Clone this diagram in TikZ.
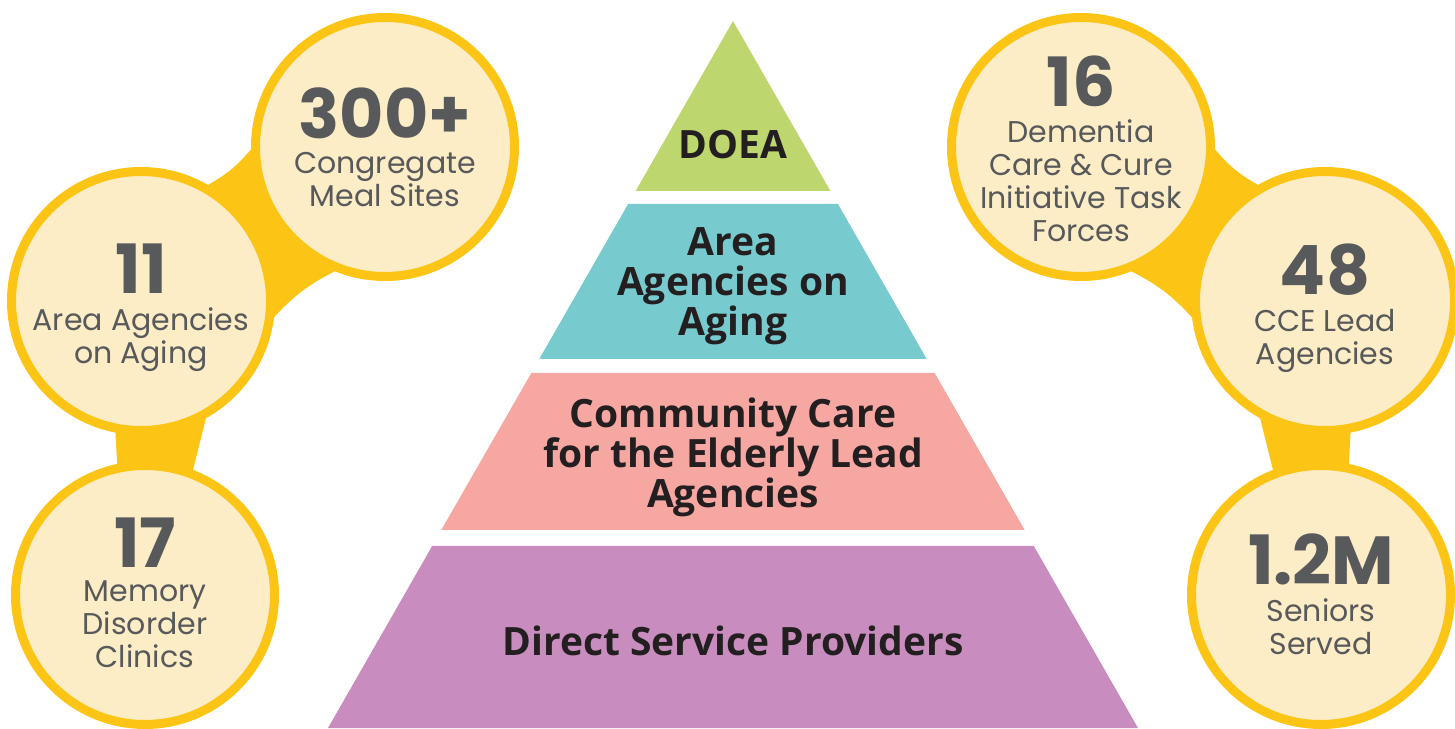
\documentclass[tikz,border=0pt]{standalone}
\usepackage{fontspec}
\setmainfont{Poppins}
\newfontfamily\tierfont{Open Sans}
\usetikzlibrary{positioning,backgrounds}
\definecolor{gold}{HTML}{FCC515}
\definecolor{cream}{HTML}{FCEDC6}
\definecolor{slate}{HTML}{58595B}
\definecolor{ink}{HTML}{231F20}
\definecolor{doeagreen}{HTML}{BDD66D}
\definecolor{aaateal}{HTML}{77CBCF}
\definecolor{ccepink}{HTML}{F6A7A1}
\definecolor{dsppurple}{HTML}{C88DBE}
\tikzset{
  stat/.style={circle,draw=gold,fill=cream,line width=9pt,minimum size=259pt,inner sep=0pt},
  statnum/.style={font=\bfseries\fontsize{68}{68}\selectfont,text=slate,inner sep=0pt},
  statlabel/.style={font=\fontsize{30}{33}\selectfont,text=slate,align=center,inner sep=0pt},
  link/.style={fill=gold},
  tierlabel/.style={font=\tierfont\bfseries\fontsize{39}{40}\selectfont,text=ink,align=center,inner sep=0pt}
}
\begin{document}
\begin{tikzpicture}[x=1pt,y=1pt]
  \useasboundingbox (0,0) rectangle (1455,728);

  % pyramid
  \fill[doeagreen] (733,707) -- (830.4,537) -- (635.6,537) -- cycle;
  \fill[aaateal] (628.1,524) -- (837.9,524) -- (926.7,369) -- (539.3,369) -- cycle;
  \fill[ccepink] (531.3,355) -- (934.7,355) -- (1024.7,198) -- (441.3,198) -- cycle;
  \fill[dsppurple] (432.2,182) -- (1033.8,182) -- (1138,0) -- (328,0) -- cycle;

  \node[tierlabel] (doea) at (733,583) {DOEA};
  \node[tierlabel] (aaa) at (733,442) {Area\\Agencies on\\Aging};
  \node[tierlabel] (cce) at (733,271) {Community Care\\for the Elderly Lead\\Agencies};
  \node[tierlabel] (dsp) at (733,87) {Direct Service Providers};

  % left circles
  \node[stat] (c300) at (385,581) {};
  \node[stat] (c11) at (141,427) {};
  \node[stat] (c17) at (145,133) {};
  % right circles
  \node[stat] (c16) at (1081,581) {};
  \node[stat] (c48) at (1325,427) {};
  \node[stat] (c12) at (1321,133) {};

  \node[statnum] (n300) at ([yshift=33.5pt]c300) {300+};
  \node[statlabel] (l300) [below=13pt of n300] {Congregate\\Meal Sites};
  \node[statnum] (n11) at ([yshift=32pt]c11) {11};
  \node[statlabel] (l11) [below=13pt of n11] {Area Agencies\\on Aging};
  \node[statnum] (n17) at ([yshift=52.5pt]c17) {17};
  \node[statlabel] (l17) [below=13pt of n17] {Memory\\Disorder\\Clinics};
  \node[statnum] (n16) at ([yshift=66pt]c16) {16};
  \node[statlabel] (l16) [below=13pt of n16] {Dementia\\Care \& Cure\\Initiative Task\\Forces};
  \node[statnum] (n48) at ([yshift=31pt]c48) {48};
  \node[statlabel] (l48) [below=13pt of n48] {CCE Lead\\Agencies};
  \node[statnum] (n12) at ([yshift=35.5pt]c12) {1.2M};
  \node[statlabel] (l12) [below=13pt of n12] {Seniors\\Served};

  % yellow links behind the circles
  \begin{pgfonlayer}{background}
    \path[link] (c11.60) to[bend right=10] (c300.181) -- (c300.248) to[bend right=10] (c11.-7) -- cycle;
    \path[link] (c11.259) -- (c17.102) -- (c17.69) -- (c11.299) -- cycle;
    \path[link] (c48.120) to[bend left=10] (c16.-1) -- (c16.-68) to[bend left=10] (c48.187) -- cycle;
    \path[link] (c48.281) -- (c12.78) -- (c12.111) -- (c48.241) -- cycle;
  \end{pgfonlayer}
\end{tikzpicture}
\end{document}
